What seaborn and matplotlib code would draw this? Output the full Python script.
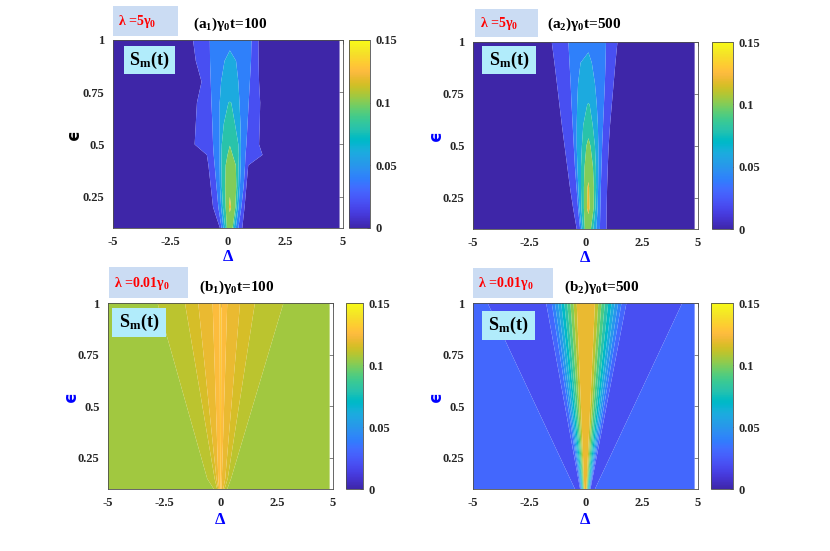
import numpy as np
import matplotlib
matplotlib.use("Agg")
import matplotlib.pyplot as plt
from matplotlib.colors import LinearSegmentedColormap, Normalize
from matplotlib.patches import Rectangle
import matplotlib.colorbar as mcolorbar
import seaborn as sns

sns.set_theme(style="white")
plt.rcParams['font.family'] = ['Liberation Serif', 'DejaVu Serif']
plt.rcParams['font.weight'] = 'bold'
plt.rcParams['mathtext.fontset'] = 'custom'
plt.rcParams['mathtext.rm'] = 'Liberation Serif:bold'
plt.rcParams['mathtext.bf'] = 'Liberation Serif:bold'
plt.rcParams['mathtext.it'] = 'Liberation Serif:bold:italic'
plt.rcParams['mathtext.default'] = 'bf'

# ---------------- colormap (MATLAB parula) ----------------
PARULA = [
    [0.2422, 0.1504, 0.6603], [0.2504, 0.1650, 0.7076], [0.2578, 0.1818, 0.7511], [0.2647, 0.1978, 0.7952],
    [0.2706, 0.2147, 0.8364], [0.2751, 0.2342, 0.8710], [0.2783, 0.2559, 0.8991], [0.2803, 0.2782, 0.9221],
    [0.2813, 0.3006, 0.9414], [0.2810, 0.3228, 0.9579], [0.2795, 0.3447, 0.9717], [0.2760, 0.3667, 0.9829],
    [0.2699, 0.3892, 0.9906], [0.2602, 0.4123, 0.9952], [0.2440, 0.4358, 0.9988], [0.2206, 0.4603, 0.9973],
    [0.1963, 0.4847, 0.9892], [0.1834, 0.5074, 0.9798], [0.1786, 0.5289, 0.9682], [0.1764, 0.5499, 0.9520],
    [0.1687, 0.5703, 0.9359], [0.1540, 0.5902, 0.9218], [0.1460, 0.6091, 0.9079], [0.1380, 0.6276, 0.8973],
    [0.1248, 0.6459, 0.8883], [0.1113, 0.6635, 0.8763], [0.0952, 0.6798, 0.8598], [0.0689, 0.6948, 0.8394],
    [0.0297, 0.7082, 0.8163], [0.0036, 0.7203, 0.7917], [0.0067, 0.7312, 0.7660], [0.0433, 0.7411, 0.7394],
    [0.0964, 0.7500, 0.7120], [0.1408, 0.7584, 0.6842], [0.1717, 0.7670, 0.6554], [0.1938, 0.7758, 0.6251],
    [0.2161, 0.7843, 0.5923], [0.2470, 0.7918, 0.5567], [0.2906, 0.7973, 0.5188], [0.3406, 0.8008, 0.4789],
    [0.3909, 0.8029, 0.4354], [0.4456, 0.8024, 0.3909], [0.5044, 0.7993, 0.3480], [0.5616, 0.7942, 0.3045],
    [0.6174, 0.7876, 0.2612], [0.6720, 0.7793, 0.2227], [0.7242, 0.7698, 0.1910], [0.7738, 0.7598, 0.1646],
    [0.8203, 0.7498, 0.1535], [0.8634, 0.7406, 0.1596], [0.9035, 0.7330, 0.1774], [0.9393, 0.7288, 0.2100],
    [0.9728, 0.7298, 0.2394], [0.9956, 0.7434, 0.2371], [0.9970, 0.7659, 0.2199], [0.9952, 0.7893, 0.2028],
    [0.9892, 0.8136, 0.1885], [0.9786, 0.8386, 0.1766], [0.9676, 0.8639, 0.1643], [0.9610, 0.8890, 0.1537],
    [0.9597, 0.9135, 0.1423], [0.9628, 0.9373, 0.1265], [0.9691, 0.9606, 0.1064], [0.9769, 0.9839, 0.0805]]
parula = LinearSegmentedColormap.from_list("parula", PARULA, N=256)
S_MIN, S_MAX = 0.0, 0.15
nan = np.nan

# ---------------- data ----------------
delta_lo, delta_hi = -5.0, 4.85

# (a1) lambda = 5 gamma0, gamma0 t = 100
a1_eps = [0.1, 0.2, 0.3, 0.4, 0.45, 0.5, 0.6, 0.7, 0.8, 0.9, 1.0]
a1_levels = [0.02, 0.04, 0.06, 0.08, 0.10, 0.12]
a1_left = [
    [-0.35, -0.65, -0.75, -0.85, -0.92, -1.45, -1.40, -1.35, -1.15, -1.40, -1.52],
    [-0.28, -0.42, -0.50, -0.58, -0.62, -0.65, -0.68, -0.72, -0.75, -0.78, -0.79],
    [-0.20, -0.30, -0.35, -0.36, -0.36, -0.36, -0.36, -0.36, -0.30, -0.15, nan],
    [-0.12, -0.22, -0.27, -0.28, -0.28, -0.27, -0.18, 0.02, nan, nan, nan],
    [-0.05, -0.10, -0.12, -0.10, -0.02, nan, nan, nan, nan, nan, nan],
    [nan, 0.04, nan, nan, nan, nan, nan, nan, nan, nan, nan]]
a1_right = [
    [0.62, 0.72, 0.80, 0.88, 1.50, 1.35, 1.38, 1.40, 1.35, 1.33, 1.32],
    [0.45, 0.58, 0.68, 0.74, 0.76, 0.80, 0.85, 0.90, 0.95, 1.00, 1.02],
    [0.34, 0.46, 0.52, 0.55, 0.56, 0.56, 0.54, 0.50, 0.45, 0.35, nan],
    [0.25, 0.38, 0.44, 0.46, 0.47, 0.45, 0.30, 0.14, nan, nan, nan],
    [0.20, 0.32, 0.36, 0.34, 0.20, nan, nan, nan, nan, nan, nan],
    [nan, 0.13, nan, nan, nan, nan, nan, nan, nan, nan, nan]]
a1_peak_pos = [0.08, 0.08, 0.08, 0.08, 0.08, 0.08, 0.08, 0.08, 0.08, 0.08, 0.08]
a1_peak_val = [0.105, 0.125, 0.115, 0.105, 0.104, 0.0995, 0.09, 0.0805, 0.07, 0.065, 0.055]
a1_edge_val = 0.005

# (a2) lambda = 5 gamma0, gamma0 t = 500
a2_eps = [0.1, 0.2, 0.3, 0.4, 0.5, 0.6, 0.7, 0.8, 0.9, 1.0]
a2_levels = [0.02, 0.04, 0.06, 0.08, 0.10, 0.12]
a2_left = [
    [-0.39, -0.55, -0.69, -0.81, -0.93, -1.05, -1.16, -1.27, -1.38, -1.50],
    [-0.24, -0.33, -0.40, -0.47, -0.52, -0.57, -0.62, -0.66, -0.71, -0.76],
    [-0.18, -0.27, -0.32, -0.36, -0.39, -0.39, -0.37, -0.33, -0.22, nan],
    [-0.11, -0.18, -0.20, -0.20, -0.16, -0.10, 0.08, nan, nan, nan],
    [-0.03, -0.07, -0.07, -0.04, 0.04, nan, nan, nan, nan, nan],
    [nan, 0.07, 0.09, nan, nan, nan, nan, nan, nan, nan]]
a2_right = [
    [0.93, 0.94, 0.96, 0.99, 1.03, 1.09, 1.17, 1.25, 1.33, 1.42],
    [0.64, 0.66, 0.68, 0.71, 0.74, 0.78, 0.82, 0.86, 0.89, 0.91],
    [0.48, 0.54, 0.56, 0.57, 0.57, 0.55, 0.50, 0.42, 0.28, nan],
    [0.35, 0.44, 0.47, 0.46, 0.42, 0.32, 0.18, nan, nan, nan],
    [0.24, 0.36, 0.37, 0.33, 0.22, nan, nan, nan, nan, nan],
    [nan, 0.18, 0.16, nan, nan, nan, nan, nan, nan, nan]]
a2_peak_pos = [0.13, 0.13, 0.13, 0.13, 0.13, 0.13, 0.13, 0.13, 0.13, 0.13]
a2_peak_val = [0.11, 0.124, 0.1225, 0.113, 0.103, 0.095, 0.0805, 0.072, 0.065, 0.055]
a2_edge_val = 0.005

# (b1) lambda = 0.01 gamma0, gamma0 t = 100
b1_eps = [0.1, 0.15, 1.0]
b1_levels = [0.11, 0.115, 0.12, 0.125, 0.13]
b1_left = [
    [-0.30, -0.59, -2.80],
    [-0.15, -0.26, -1.58],
    [-0.10, -0.18, -0.99],
    [-0.06, -0.10, -0.35],
    [-0.01, -0.015, -0.04]]
b1_right = [
    [0.30, 0.47, 2.80],
    [0.18, 0.32, 1.53],
    [0.12, 0.21, 0.87],
    [0.04, 0.06, 0.30],
    [0.01, 0.015, 0.04]]
b1_peak_pos = [0.0, 0.0, 0.0]
b1_peak_val = [0.132, 0.132, 0.132]
b1_edge_val = 0.107

# (b2) lambda = 0.01 gamma0, gamma0 t = 500
b2_eps = [0.1, 1.0]
b2_levels = [0.03, 0.04, 0.05, 0.06, 0.07, 0.08, 0.09, 0.10, 0.11, 0.12]
b2_left = [
    [-0.24, -1.75], [-0.21, -1.50], [-0.19, -1.36], [-0.17, -1.22], [-0.15, -1.08],
    [-0.13, -0.94], [-0.11, -0.81], [-0.09, -0.67], [-0.07, -0.53], [-0.05, -0.39]]
b2_right = [
    [0.22, 1.82], [0.20, 1.60], [0.18, 1.45], [0.16, 1.30], [0.14, 1.16],
    [0.12, 1.01], [0.10, 0.86], [0.08, 0.71], [0.06, 0.57], [0.04, 0.42]]
b2_peak_pos = [0.0, 0.0]
b2_peak_val = [0.128, 0.128]
b2_edge_val = 0.032
b2_wedge_left = [-0.47, -4.35]     # where S drops below 0.03 (outer dark wedge)
b2_wedge_right = [0.42, 4.30]
b2_dip_left = [-0.33, -3.0]        # lowest value inside the wedge
b2_dip_right = [0.30, 3.0]
b2_dip_val = 0.024


# ---------------- grid builder ----------------
def build_grid(eps, levels, left, right, peak_pos, peak_val, edge_val, extra_left=(), extra_right=()):
    n = len(eps)
    pp = np.asarray(peak_pos, float)
    pv = np.asarray(peak_val, float)
    xs_cols = [np.full(n, delta_lo)]
    zs_cols = [np.full(n, edge_val)]
    for x, z in extra_left:
        xs_cols.append(np.asarray(x, float)); zs_cols.append(np.asarray(z, float))
    for lev, row in zip(levels, left):
        row = np.asarray(row, float)
        miss = np.isnan(row)
        xs_cols.append(np.where(miss, pp, row)); zs_cols.append(np.where(miss, pv, lev))
    xs_cols.append(pp); zs_cols.append(pv)
    for lev, row in reversed(list(zip(levels, right))):
        row = np.asarray(row, float)
        miss = np.isnan(row)
        xs_cols.append(np.where(miss, pp, row)); zs_cols.append(np.where(miss, pv, lev))
    for x, z in extra_right:
        xs_cols.append(np.asarray(x, float)); zs_cols.append(np.asarray(z, float))
    xs_cols.append(np.full(n, delta_hi)); zs_cols.append(np.full(n, edge_val))
    X = np.column_stack(xs_cols)
    Z = np.column_stack(zs_cols)
    Y = np.repeat(np.asarray(eps, float)[:, None], X.shape[1], axis=1)
    return X, Y, Z


panels = {
    'a1': dict(grid=build_grid(a1_eps, a1_levels, a1_left, a1_right, a1_peak_pos, a1_peak_val, a1_edge_val),
               bands=[0.0, 0.02, 0.04, 0.06, 0.08, 0.10, 0.12, 0.14],
               lam=r'λ =5γ$_\mathbf{0}$', title=r'(a$_\mathbf{1}$)γ$_\mathbf{0}$t=100', ycol='black'),
    'a2': dict(grid=build_grid(a2_eps, a2_levels, a2_left, a2_right, a2_peak_pos, a2_peak_val, a2_edge_val),
               bands=[0.0, 0.02, 0.04, 0.06, 0.08, 0.10, 0.12, 0.14],
               lam=r'λ =5γ$_\mathbf{0}$', title=r'(a$_\mathbf{2}$)γ$_\mathbf{0}$t=500', ycol='blue'),
    'b1': dict(grid=build_grid(b1_eps, b1_levels, b1_left, b1_right, b1_peak_pos, b1_peak_val, b1_edge_val),
               bands=[0.105, 0.11, 0.115, 0.12, 0.125, 0.13, 0.135],
               lam=r'λ =0.01γ$_\mathbf{0}$', title=r'(b$_\mathbf{1}$)γ$_\mathbf{0}$t=100', ycol='blue'),
    'b2': dict(grid=build_grid(b2_eps, b2_levels, b2_left, b2_right, b2_peak_pos, b2_peak_val, b2_edge_val,
                               extra_left=[(b2_wedge_left, [0.03, 0.03]), (b2_dip_left, [b2_dip_val] * 2)],
                               extra_right=[(b2_dip_right, [b2_dip_val] * 2), (b2_wedge_right, [0.03, 0.03])]),
               bands=[0.02, 0.03, 0.04, 0.05, 0.06, 0.07, 0.08, 0.09, 0.10, 0.11, 0.12, 0.13],
               lam=r'λ =0.01γ$_\mathbf{0}$', title=r'(b$_\mathbf{2}$)γ$_\mathbf{0}$t=500', ycol='blue'),
}

# ---------------- layout (pixel boxes: left, top, right, bottom) ----------------
W, H = 830, 551
AX = {'a1': (113, 40, 343, 228), 'a2': (473, 42, 698, 229),
      'b1': (108, 303, 333, 489), 'b2': (473, 303, 698, 489)}
CB = {'a1': (349, 40, 370, 228), 'a2': (712, 42, 733, 229),
      'b1': (346, 303, 363, 489), 'b2': (711, 303, 733, 489)}
LAMBOX = {'a1': (113, 6, 178, 36), 'a2': (475, 9, 538, 37),
          'b1': (109, 267, 188, 298), 'b2': (473, 268, 553, 298)}
TITLE = {'a1': (193, 24), 'a2': (547, 24), 'b1': (199, 287), 'b2': (564, 287)}
SMBOX = {'a1': (124, 46, 175, 74), 'a2': (482, 46, 536, 74),
         'b1': (112, 308, 166, 337), 'b2': (482, 311, 535, 340)}
YLAB = {'a1': (74, 135), 'a2': (436, 136), 'b1': (71, 397), 'b2': (436, 397)}
XLAB = {'a1': (228, 257), 'a2': (585, 258), 'b1': (220, 520), 'b2': (585, 520)}


def fbox(b):
    l, t, r, bt = b
    return [l / W, 1 - bt / H, (r - l) / W, (bt - t) / H]


def fpt(x, y):
    return x / W, 1 - y / H


fig = plt.figure(figsize=(W / 100, H / 100), dpi=100)
fig.patch.set_facecolor('white')
norm = Normalize(S_MIN, S_MAX)
frame_col = '#4d4d4d'
tick_fs = 9

for key, p in panels.items():
    ax = fig.add_axes(fbox(AX[key]))
    ax.set_facecolor('white')
    X, Y, Z = p['grid']
    bands = p['bands']
    cols = [parula(norm(b)) for b in bands[:-1]]
    ax.contourf(X, Y, Z, levels=bands, colors=cols, antialiased=True)
    ax.set_xlim(-5, 5)
    ax.set_ylim(0.1, 1.0)
    ax.set_xticks([-5, -2.5, 0, 2.5, 5])
    ax.set_xticklabels(['-5', '-2.5', '0', '2.5', '5'])
    ax.set_yticks([0.25, 0.5, 0.75, 1.0])
    ax.set_yticklabels(['0.25', '0.5', '0.75', '1'])
    ax.tick_params(direction='in', length=3, width=0.5, color=frame_col, top=True, right=True,
                   labelsize=tick_fs)
    ax.tick_params(axis='x', pad=6)
    ax.tick_params(axis='y', pad=6)
    for lab in ax.get_xticklabels() + ax.get_yticklabels():
        lab.set_fontweight('bold')
    for s in ax.spines.values():
        s.set_color(frame_col)
        s.set_linewidth(0.6)
    ax.grid(False)

    cax = fig.add_axes(fbox(CB[key]))
    cb = mcolorbar.ColorbarBase(cax, cmap=parula, norm=norm, ticks=[0, 0.05, 0.1, 0.15])
    cb.set_ticklabels(['0', '0.05', '0.1', '0.15'])
    cb.outline.set_edgecolor(frame_col)
    cb.outline.set_linewidth(0.6)
    cax.tick_params(direction='in', length=2.5, width=0.5, color=frame_col, labelsize=tick_fs, pad=4)
    for lab in cax.get_yticklabels():
        lab.set_fontweight('bold')

    # lambda label box
    l, t, r, b = LAMBOX[key]
    fig.patches.append(Rectangle(fpt(l, b), (r - l) / W, (b - t) / H, transform=fig.transFigure,
                                 facecolor='#cbdcf3', edgecolor='none', zorder=1))
    fig.text(*fpt(l + 5, (t + b) / 2 + 1), p['lam'], color='red', fontsize=10, fontweight='bold',
             ha='left', va='center', zorder=3)
    # panel title
    fig.text(*fpt(*TITLE[key]), p['title'], color='black', fontsize=11, fontweight='bold',
             ha='left', va='center')
    # S_m(t) box
    l, t, r, b = SMBOX[key]
    fig.patches.append(Rectangle(fpt(l, b), (r - l) / W, (b - t) / H, transform=fig.transFigure,
                                 facecolor='#b1ecfb', edgecolor='none', zorder=5))
    fig.text(*fpt((l + r) / 2, (t + b) / 2), r'S$_\mathbf{m}$(t)', color='black', fontsize=13,
             fontweight='bold', ha='center', va='center', zorder=6)
    # axis labels
    fig.text(*fpt(*YLAB[key]), 'ϵ', color=p['ycol'], fontsize=12, rotation=90,
             ha='center', va='center', family=['DejaVu Sans'], fontweight='bold')
    fig.text(*fpt(*XLAB[key]), 'Δ', color='blue', fontsize=12, fontweight='bold',
             ha='center', va='center')

fig.savefig('out.png', dpi=100, facecolor='white')
